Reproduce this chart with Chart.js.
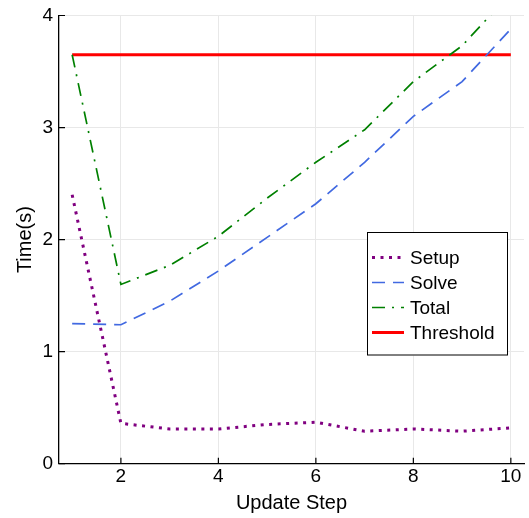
<!DOCTYPE html>
<html>
<head>
<meta charset="utf-8">
<script src="https://cdn.jsdelivr.net/npm/chart.js@4"></script>
<style>
  html, body { margin: 0; padding: 0; background: #fff; }
  #wrap { width: 529px; height: 518px; }
</style>
</head>
<body>
<div id="wrap"><canvas id="timeChart" width="529" height="518"></canvas></div>
<script>
// Data
const steps = [1, 2, 3, 4, 5, 6, 7, 8, 9, 10];
const setupTimes = [2.40, 0.36, 0.31, 0.31, 0.35, 0.37, 0.29, 0.31, 0.29, 0.32];
const solveTimes = [1.25, 1.24, 1.45, 1.72, 2.02, 2.32, 2.69, 3.10, 3.41, 3.88];
const totalTimes = [3.65, 1.60, 1.77, 2.03, 2.37, 2.69, 2.98, 3.41, 3.73, 4.20];
const thresholdTimes = [3.65, 3.65, 3.65, 3.65, 3.65, 3.65, 3.65, 3.65, 3.65, 3.65];
const xTicks = [2, 4, 6, 8, 10];
const yTicks = [0, 1, 2, 3, 4];

const FONT = '"Liberation Sans", Arial, Helvetica, sans-serif';
const toPoints = (ys) => steps.map((x, i) => ({ x: x, y: ys[i] }));

// Small ticks pointing into the plot, and the legend box inside the plot
const innerTicks = {
    id: 'innerTicks',
    afterDatasetsDraw(chart) {
        const ctx = chart.ctx;
        const xs = chart.scales.x, ys = chart.scales.y;
        const a = chart.chartArea;
        ctx.save();
        ctx.strokeStyle = '#000';
        ctx.lineWidth = 1.2;
        ctx.beginPath();
        xTicks.forEach(v => {
            const px = xs.getPixelForValue(v);
            ctx.moveTo(px, a.bottom);
            ctx.lineTo(px, a.bottom - 6);
        });
        yTicks.forEach(v => {
            const py = ys.getPixelForValue(v);
            ctx.moveTo(a.left, py);
            ctx.lineTo(a.left + 6, py);
        });
        ctx.stroke();
        ctx.restore();
    }
};

const boxLegend = {
    id: 'boxLegend',
    afterDraw(chart) {
        const ctx = chart.ctx;
        const left = 367, top = 232, right = 508, bottom = 355.5;
        ctx.save();
        ctx.fillStyle = '#fff';
        ctx.fillRect(left, top, right - left, bottom - top);
        ctx.strokeStyle = '#000';
        ctx.lineWidth = 1;
        ctx.strokeRect(left + 0.5, top + 0.5, right - left - 1, bottom - top - 1);
        ctx.font = '19px ' + FONT;
        ctx.textBaseline = 'middle';
        ctx.fillStyle = '#000';
        chart.data.datasets.forEach((ds, i) => {
            const y = 257.5 + i * 25;
            ctx.save();
            ctx.strokeStyle = ds.borderColor;
            ctx.lineWidth = ds.borderWidth;
            ctx.setLineDash(ds.borderDash || []);
            ctx.beginPath();
            ctx.moveTo(372, y);
            ctx.lineTo(404, y);
            ctx.stroke();
            ctx.restore();
            ctx.fillText(ds.label, 410, y + 1);
        });
        ctx.restore();
    }
};

const ctx = document.getElementById('timeChart').getContext('2d');

new Chart(ctx, {
    type: 'line',
    data: {
        datasets: [
            {
                label: 'Setup',
                data: toPoints(setupTimes),
                borderColor: '#800080',
                borderWidth: 3,
                borderDash: [3, 5.5],
                pointRadius: 0,
                fill: false
            },
            {
                label: 'Solve',
                data: toPoints(solveTimes),
                borderColor: '#4169e1',
                borderWidth: 1.7,
                borderDash: [13, 8],
                pointRadius: 0,
                fill: false
            },
            {
                label: 'Total',
                data: toPoints(totalTimes),
                borderColor: '#008000',
                borderWidth: 1.7,
                borderDash: [13, 7, 2, 7],
                pointRadius: 0,
                fill: false
            },
            {
                label: 'Threshold',
                data: toPoints(thresholdTimes),
                borderColor: '#ff0000',
                borderWidth: 3,
                pointRadius: 0,
                fill: false
            }
        ]
    },
    options: {
        responsive: false,
        animation: false,
        layout: {
            padding: { top: 13.5, right: 5, left: 0, bottom: 0 }
        },
        plugins: {
            legend: { display: false },
            tooltip: { enabled: false }
        },
        scales: {
            x: {
                type: 'linear',
                min: 0.73,
                max: 10.27,
                afterBuildTicks: (scale) => {
                    scale.ticks = xTicks.map(v => ({ value: v }));
                },
                afterFit: (scale) => { scale.height = 54.3; },
                grid: {
                    color: '#e8e8e8',
                    lineWidth: 1,
                    drawTicks: false
                },
                border: { color: '#000', width: 1.3 },
                ticks: {
                    color: '#000',
                    padding: 4,
                    maxRotation: 0,
                    font: { family: FONT, size: 19, lineHeight: 1 }
                },
                title: {
                    display: true,
                    text: 'Update Step',
                    color: '#000',
                    padding: { top: 0, bottom: 3 },
                    font: { family: FONT, size: 20 }
                }
            },
            y: {
                min: 0,
                max: 4,
                afterBuildTicks: (scale) => {
                    scale.ticks = yTicks.map(v => ({ value: v }));
                },
                afterFit: (scale) => { scale.width = 59; },
                grid: {
                    color: '#e8e8e8',
                    lineWidth: 1,
                    drawTicks: false
                },
                border: { color: '#000', width: 1.3 },
                ticks: {
                    color: '#000',
                    padding: 6,
                    font: { family: FONT, size: 19, lineHeight: 1 }
                },
                title: {
                    display: true,
                    text: 'Time(s)',
                    color: '#000',
                    padding: { top: 13, bottom: 0 },
                    font: { family: FONT, size: 20 }
                }
            }
        }
    },
    plugins: [innerTicks, boxLegend]
});
</script>
</body>
</html>
